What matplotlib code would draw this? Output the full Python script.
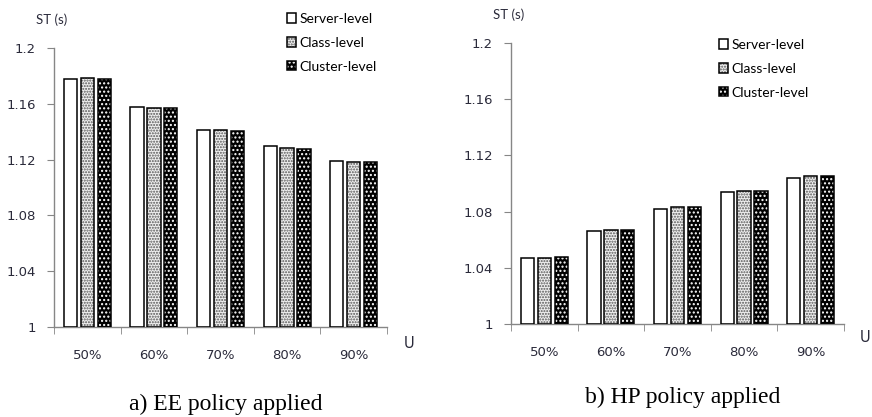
import matplotlib
matplotlib.use('Agg')
import matplotlib.pyplot as plt
import numpy as np
from matplotlib.patches import Patch
from matplotlib.legend_handler import HandlerTuple

# ---- data ----
categories = ['50%', '60%', '70%', '80%', '90%']
series = ['Server-level', 'Class-level', 'Cluster-level']
ee_server = [1.178, 1.158, 1.141, 1.1295, 1.119]
ee_class = [1.1785, 1.157, 1.141, 1.1285, 1.118]
ee_cluster = [1.178, 1.157, 1.1405, 1.1275, 1.118]
hp_server = [1.047, 1.066, 1.082, 1.094, 1.104]
hp_class = [1.047, 1.067, 1.083, 1.095, 1.105]
hp_cluster = [1.048, 1.067, 1.083, 1.095, 1.105]
yticks = [1.0, 1.04, 1.08, 1.12, 1.16, 1.2]
ytick_labels = ['1', '1.04', '1.08', '1.12', '1.16', '1.2']
captions = ['a) EE policy applied', 'b) HP policy applied']

# ---- styles ----
styles = [
    dict(face='white', hatch=None, hcolor='white'),
    dict(face='#efefef', hatch='......', hcolor='#555555'),
    dict(face='black', hatch='....', hcolor='white'),
]
plt.rcParams['hatch.linewidth'] = 1.0
spine_col = '#868686'
text_col = '#2a2a3a'

fig = plt.figure(figsize=(8.72, 4.17), dpi=100)
W, H = 872, 417

def px_axes(x0, y0, x1, y1):
    return fig.add_axes([x0 / W, 1 - y1 / H, (x1 - x0) / W, (y1 - y0) / H])

ax1 = px_axes(54, 48, 387, 327)
ax2 = px_axes(511, 43, 844, 324)

offsets = [-0.254, 0.0, 0.254]
bw = 0.2
base = 1.0

def draw(ax, data):
    x = np.arange(len(categories))
    for vals, off, st in zip(data, offsets, styles):
        h = np.array(vals) - base
        ax.bar(x + off, h, bw, bottom=base, color=st['face'],
               edgecolor=st['hcolor'], hatch=st['hatch'], linewidth=0, zorder=2)
        ax.bar(x + off, h, bw, bottom=base, fill=False,
               edgecolor='black', linewidth=1.1, zorder=3)
    ax.set_xlim(-0.5, len(categories) - 0.5)
    ax.set_ylim(1.0, 1.2)
    for s in ['top', 'right']:
        ax.spines[s].set_visible(False)
    for s in ['left', 'bottom']:
        ax.spines[s].set_color(spine_col)
        ax.spines[s].set_linewidth(1.0)
    ax.set_yticks(yticks)
    ax.set_yticklabels(ytick_labels)
    ax.set_xticks(x)
    ax.set_xticklabels(categories)
    ax.set_xticks(np.arange(len(categories) + 1) - 0.5, minor=True)
    ax.tick_params(axis='x', which='major', length=0, pad=16,
                   labelsize=9.5, labelcolor=text_col)
    ax.tick_params(axis='x', which='minor', length=5, color=spine_col, direction='out')
    ax.tick_params(axis='y', length=5, color=spine_col, pad=8,
                   labelsize=9.5, labelcolor=text_col)
    for lab in ax.get_xticklabels() + ax.get_yticklabels():
        lab.set_fontfamily('DejaVu Sans')

draw(ax1, [ee_server, ee_class, ee_cluster])
draw(ax2, [hp_server, hp_class, hp_cluster])

def legend_handles():
    hs = []
    for st in styles:
        hs.append((Patch(facecolor=st['face'], edgecolor=st['hcolor'],
                         hatch=st['hatch'], linewidth=0),
                   Patch(fill=False, edgecolor='black', linewidth=1.1)))
    return hs

for (lx, ly) in [(287, 13), (719, 39)]:
    fig.legend(legend_handles(), series, loc='upper left',
               bbox_to_anchor=(lx / W, 1 - ly / H), frameon=False,
               borderaxespad=0, borderpad=0, handlelength=0.65, handleheight=0.65,
               handletextpad=0.25, labelspacing=0.85,
               handler_map={tuple: HandlerTuple(ndivide=1, pad=0)},
               prop=dict(family='Lato', size=10))

# axis titles
fig.text(36 / W, 1 - 20 / H, 'ST (s)', family='Lato', size=9.5, color=text_col,
         va='center', ha='left')
fig.text(493 / W, 1 - 15 / H, 'ST (s)', family='Lato', size=9.5, color=text_col,
         va='center', ha='left')
fig.text(404 / W, 1 - 343 / H, 'U', family='DejaVu Sans', size=10.5, color=text_col,
         va='center', ha='left')
fig.text(860 / W, 1 - 338 / H, 'U', family='DejaVu Sans', size=10.5, color=text_col,
         va='center', ha='left')

# captions
fig.text(226 / W, 1 - 404 / H, captions[0], family='Liberation Serif', size=17,
         color='black', ha='center', va='center')
fig.text(683 / W, 1 - 397 / H, captions[1], family='Liberation Serif', size=17,
         color='black', ha='center', va='center')

fig.savefig('out.png', dpi=100)
